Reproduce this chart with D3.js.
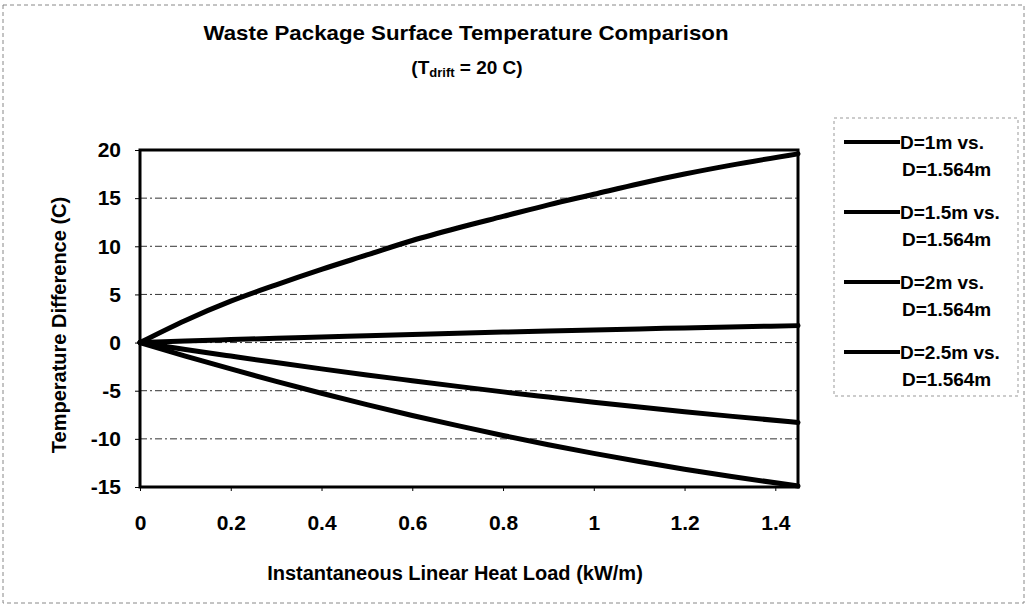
<!DOCTYPE html>
<html>
<head>
<meta charset="utf-8">
<script src="https://cdn.jsdelivr.net/npm/d3@7"></script>
<style>
  body { margin: 0; background: #fff; }
  text { font-family: "Liberation Sans", Arial, sans-serif; font-weight: bold; fill: #000; }
</style>
</head>
<body>
<div class="main_area"></div>
<script>
// heat load values (kW/m)
const heatLoad = [0, 0.1, 0.2, 0.3, 0.4, 0.5, 0.6, 0.7, 0.8, 0.9, 1.0, 1.1, 1.2, 1.3, 1.45];

// temperature difference vs D=1.564m (C)
const d1mValues   = [0, 2.3, 4.3, 6.0, 7.6, 9.1, 10.6, 11.9, 13.1, 14.3, 15.4, 16.5, 17.5, 18.4, 19.6];
const d15mValues  = [0, 0.16, 0.31, 0.45, 0.59, 0.72, 0.85, 0.97, 1.09, 1.2, 1.31, 1.42, 1.52, 1.62, 1.76];
const d2mValues   = [0, -0.71, -1.40, -2.08, -2.73, -3.36, -3.96, -4.55, -5.12, -5.66, -6.19, -6.70, -7.18, -7.64, -8.3];
const d25mValues  = [0, -1.40, -2.74, -4.03, -5.26, -6.44, -7.57, -8.63, -9.65, -10.61, -11.51, -12.36, -13.15, -13.89, -14.9];

const seriesNames = [
  ["D=1m vs.", "D=1.564m"],
  ["D=1.5m vs.", "D=1.564m"],
  ["D=2m vs.", "D=1.564m"],
  ["D=2.5m vs.", "D=1.564m"]
];

const xTicks = [0, 0.2, 0.4, 0.6, 0.8, 1, 1.2, 1.4];
const yTicks = [-15, -10, -5, 0, 5, 10, 15, 20];

function drawChart() {
  const width = 1028, height = 609;

  const svg = d3.select(".main_area")
    .append("svg")
    .attr("width", width)
    .attr("height", height);

  // scanned page frame
  svg.append("rect")
    .attr("x", 3).attr("y", 5)
    .attr("width", 1021).attr("height", 598)
    .attr("fill", "none")
    .attr("stroke", "#888")
    .attr("stroke-width", 1)
    .attr("stroke-dasharray", "4,3");

  const plot = {left: 140, right: 798, top: 150, bottom: 487};

  const xScale = d3.scaleLinear()
    .domain([0, 1.45])
    .range([plot.left, plot.right]);

  const yScale = d3.scaleLinear()
    .domain([-15, 20])
    .range([plot.bottom, plot.top]);

  // title
  svg.append("text")
    .attr("x", 466).attr("y", 40)
    .attr("text-anchor", "middle")
    .style("font-size", "21px")
    .attr("textLength", 525)
    .attr("lengthAdjust", "spacingAndGlyphs")
    .text("Waste Package Surface Temperature Comparison");

  var sub = svg.append("text")
    .attr("x", 467).attr("y", 74)
    .attr("text-anchor", "middle")
    .style("font-size", "19px");
  sub.append("tspan").text("(T");
  sub.append("tspan").attr("dy", 3).style("font-size", "13px").text("drift");
  sub.append("tspan").attr("dy", -3).text(" = 20 C)");

  // grid lines
  svg.append("g")
    .selectAll("line")
    .data(yTicks.slice(1, -1))
    .enter().append("line")
      .attr("x1", plot.left)
      .attr("x2", plot.right)
      .attr("y1", d => yScale(d))
      .attr("y2", d => yScale(d))
      .attr("stroke", "#333")
      .attr("stroke-width", 1)
      .attr("stroke-dasharray", "7,3,2,3");

  // axes
  var yAxis = d3.axisLeft(yScale)
    .tickValues(yTicks)
    .tickFormat(d => String(d))
    .tickSize(5)
    .tickPadding(14);

  var yAxisGroup = svg.append("g")
    .attr("transform", "translate(" + plot.left + ",0)")
    .call(yAxis);
  yAxisGroup.select(".domain").remove();
  yAxisGroup.selectAll("text")
    .style("font-size", "21px")
    .style("font-family", "'Liberation Sans', Arial, sans-serif")
    .style("font-weight", "bold");

  var xAxis = d3.axisBottom(xScale)
    .tickValues(xTicks)
    .tickFormat(d => String(d))
    .tickSize(4)
    .tickPadding(24);

  var xAxisGroup = svg.append("g")
    .attr("transform", "translate(0," + plot.bottom + ")")
    .call(xAxis);
  xAxisGroup.select(".domain").remove();
  xAxisGroup.selectAll("text")
    .style("font-size", "21px")
    .style("font-family", "'Liberation Sans', Arial, sans-serif")
    .style("font-weight", "bold");

  // plot border
  svg.append("rect")
    .attr("x", plot.left).attr("y", plot.top)
    .attr("width", plot.right - plot.left)
    .attr("height", plot.bottom - plot.top)
    .attr("fill", "none")
    .attr("stroke", "#000")
    .attr("stroke-width", 3);

  // axis titles
  svg.append("text")
    .attr("transform", "translate(66,325) rotate(-90)")
    .attr("text-anchor", "middle")
    .style("font-size", "20px")
    .text("Temperature Difference (C)");

  svg.append("text")
    .attr("x", 455).attr("y", 580)
    .attr("text-anchor", "middle")
    .style("font-size", "20px")
    .text("Instantaneous Linear Heat Load (kW/m)");

  // series
  const allSeries = [d1mValues, d15mValues, d2mValues, d25mValues];
  const line = d3.line()
    .x((d, i) => xScale(heatLoad[i]))
    .y(d => yScale(d))
    .curve(d3.curveMonotoneX);

  svg.append("g")
    .selectAll("path")
    .data(allSeries)
    .enter().append("path")
      .attr("d", line)
      .attr("fill", "none")
      .attr("stroke", "#000")
      .attr("stroke-width", 5)
      .attr("stroke-linejoin", "round")
      .attr("stroke-linecap", "round");

  // legend
  var legend = svg.append("g");
  legend.append("rect")
    .attr("x", 834).attr("y", 118)
    .attr("width", 184).attr("height", 278)
    .attr("fill", "none")
    .attr("stroke", "#999")
    .attr("stroke-width", 1)
    .attr("stroke-dasharray", "3,3");

  var items = legend.selectAll("g.item")
    .data(seriesNames)
    .enter().append("g")
      .attr("class", "item")
      .attr("transform", (d, i) => "translate(0," + (142 + i * 70) + ")");

  items.append("line")
    .attr("x1", 844).attr("x2", 900)
    .attr("y1", 0).attr("y2", 0)
    .attr("stroke", "#000")
    .attr("stroke-width", 4);

  items.append("text")
    .attr("x", 900).attr("y", 7)
    .style("font-size", "19px")
    .text(d => d[0]);

  items.append("text")
    .attr("x", 902).attr("y", 34)
    .style("font-size", "19px")
    .text(d => d[1]);

  return svg;
}

drawChart();
</script>
</body>
</html>
